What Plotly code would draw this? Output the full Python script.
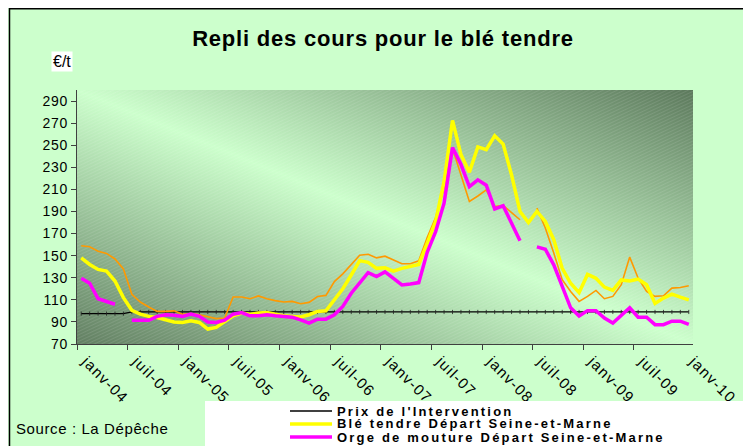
import base64
import plotly.graph_objects as go

# ---------------- data ----------------
tick_labels = ["janv-04", "juil-04", "janv-05", "juil-05", "janv-06", "juil-06", "janv-07",
               "juil-07", "janv-08", "juil-08", "janv-09", "juil-09", "janv-10"]
months = list(range(73))  # monthly points janv-04 .. janv-10

prix_intervention = [97.5] * 6 + [99] * 67

ble_tendre = [148, 142, 137.5, 136, 127, 112, 100.5, 97, 95, 94, 92, 90,
              89.5, 91, 89.5, 83.5, 85, 90, 95.5, 98, 97, 98, 98.5, 97,
              95.5, 95, 94.5, 96.5, 99.5, 100, 110.5, 120, 132.5, 145.5, 144, 138.5,
              139, 136, 138.5, 140, 142, 161, 181, 217, 272.5, 241.5, 225.5, 248.5,
              246, 258.5, 251, 223, 190, 180, 190, 181, 164.5, 138.5, 125, 116.5,
              133, 129.5, 121.5, 118.5, 128, 127, 128.8, 123.7, 106.8, 111.6, 115.2, 112.5,
              110]

orge = [129.5, 125, 111, 108.5, 106, None, 91.5, 91.5, 91.5, 95, 96.5, 96,
        95, 97, 95, 90, 89.5, 91.5, 97, 98.5, 95.5, 95.5, 96.4, 95.5,
        94.9, 94.3, 91.9, 88.9, 92.5, 92.5, 96.4, 104, 116, 125, 134.6, 131,
        135.3, 129.5, 123.5, 124.4, 125.6, 153, 171.8, 197.5, 248, 232.5, 212.5, 218.6,
        213.8, 192.3, 195.2, 179.4, 163.5, None, 158, 155.8, 141.7, 122.1, 102.8, 95.3,
        100.2, 100.2, 93.5, 89, 95.9, 102.8, 94.2, 94.2, 87.5, 87.5, 90.7, 90.7,
        87.8]

autre_ble = [159, 158, 154, 152, 147, 138, 115, 108, 103.5, 99.5, 99.5, 100,
             97, 97.5, 96.5, 94.5, 93, 93.5, 112.5, 112.5, 111, 113.5, 111, 109.3,
             108, 108.6, 106.5, 107.7, 113, 114, 126.5, 133.5, 141.7, 150.4, 151.3, 148,
             149.5, 146.2, 142.6, 142.6, 145.3, 166.5, 184.5, 211, 247.2, 223, 199, 204,
             209.5, 194.5, 195.5, 189, 182.5, None, 193, 175, 152.3, 128.2, 117.6, 108.6,
             113.1, 118.5, 111, 113.1, 123.7, 148.7, 129.6, 117.6, 113.1, 113.7, 120.6, 121.2,
             122.7]

y_ticks = list(range(70, 300, 20))

# ---------------- layout helpers ----------------
OFF = 8                      # page body margin
W, H = 751 - OFF, 446 - OFF  # figure size
L, T = 77 - OFF, 90 - OFF
R = W - (693 - OFF)
B = H - (344 - OFF)
PW, PH = W - L - R, H - T - B
FONT = "Liberation Sans, Arial, sans-serif"


def px(x):  # screenshot x -> paper
    return (x - OFF - L) / PW


def py(y):  # screenshot y -> paper
    return (H - B - (y - OFF)) / PH


svg = f'''<svg xmlns="http://www.w3.org/2000/svg" width="{PW}" height="{PH}" viewBox="0 0 {PW} {PH}" preserveAspectRatio="none">
<defs>
<linearGradient id="g" x1="0" y1="1" x2="1" y2="0">
<stop offset="0" stop-color="#627F62"/>
<stop offset="0.5" stop-color="#CCFFCC"/>
<stop offset="1" stop-color="#5C795C"/>
</linearGradient>
<pattern id="h" width="5" height="3" patternUnits="userSpaceOnUse" patternTransform="rotate(-25)">
<line x1="0" y1="0.5" x2="5" y2="0.5" stroke="#ffffff" stroke-opacity="0.10" stroke-width="1"/>
</pattern>
</defs>
<rect width="{PW}" height="{PH}" fill="url(#g)"/>
<rect width="{PW}" height="{PH}" fill="url(#h)"/>
</svg>'''
bg_src = "data:image/svg+xml;base64," + base64.b64encode(svg.encode()).decode()

fig = go.Figure()
fig.add_trace(go.Scatter(x=months, y=prix_intervention, mode="lines+markers", name="Prix de l'Intervention",
                         line=dict(color="black", width=1.3),
                         marker=dict(symbol="line-ns", size=3, line=dict(color="#222222", width=0.8)),
                         showlegend=False))
fig.add_trace(go.Scatter(x=months, y=autre_ble, mode="lines", name="Blé tendre (autre)",
                         line=dict(color="#FF9900", width=1.6), connectgaps=False, showlegend=False))
fig.add_trace(go.Scatter(x=months, y=ble_tendre, mode="lines", name="Blé tendre Départ Seine-et-Marne",
                         line=dict(color="#FFFF00", width=3.5), connectgaps=False, showlegend=False))
fig.add_trace(go.Scatter(x=months, y=orge, mode="lines", name="Orge de mouture Départ Seine-et-Marne",
                         line=dict(color="#FF00FF", width=3.5), connectgaps=False, showlegend=False))

axis_col = "#404040"
fig.update_layout(
    width=W, height=H,
    margin=dict(l=L, r=R, t=T, b=B, pad=0),
    paper_bgcolor="#CCFFCC",
    plot_bgcolor="#CCFFCC",
    font=dict(family=FONT, color="black", size=14),
    title=dict(text='<b><span style="letter-spacing:0.8px">Repli des cours pour le blé tendre</span></b>',
               font=dict(size=22, family=FONT),
               x=px(383), xref="paper", xanchor="center", y=1 - (38 - OFF) / H, yanchor="middle"),
    xaxis=dict(range=[-0.5, 72.5], tickmode="array", tickvals=list(range(0, 73, 6)),
               ticktext=[f'<span style="letter-spacing:1.3px">{t}</span>' for t in tick_labels],
               tickangle=45, ticks="", showgrid=False, zeroline=False,
               showline=True, linecolor=axis_col, linewidth=1,
               tickfont=dict(size=15, family=FONT),
               ticklabelstandoff=2, ticklabelshift=5,
               minor=dict(tickmode="array", tickvals=[i - 0.5 for i in range(0, 72, 6)],
                          ticks="outside", ticklen=5, tickcolor=axis_col, tickwidth=1)),
    yaxis=dict(range=[70, 300], tickmode="array", tickvals=y_ticks,
               ticktext=[f'<span style="letter-spacing:0.8px">{v}</span>' for v in y_ticks],
               ticks="outside", ticklen=5,
               tickcolor=axis_col, showgrid=False, zeroline=False, showline=True,
               linecolor=axis_col, linewidth=1, tickfont=dict(size=14, family=FONT)),
    images=[dict(source=bg_src, xref="paper", yref="paper", x=0, y=1, sizex=1, sizey=1,
                 sizing="stretch", xanchor="left", yanchor="top", layer="below")],
)

shapes = []
# chart frame
shapes.append(dict(type="rect", xref="paper", yref="paper", x0=px(9.5), x1=px(747.5), y0=py(H + 30), y1=py(8.7),
                   fillcolor="rgba(0,0,0,0)", line=dict(color="black", width=1.5), layer="above"))
# legend box
shapes.append(dict(type="rect", xref="paper", yref="paper", x0=px(205), x1=px(760), y0=py(460), y1=py(401),
                   fillcolor="white", line=dict(width=0), layer="above"))
legend_items = [("Prix de l'Intervention", "black", 1.5, 411),
                ("Blé tendre Départ Seine-et-Marne", "#FFFF00", 3.5, 424),
                ("Orge de mouture Départ Seine-et-Marne", "#FF00FF", 3.5, 437)]
annotations = []
for text, col, w, yy in legend_items:
    shapes.append(dict(type="line", xref="paper", yref="paper", x0=px(290), x1=px(332), y0=py(yy), y1=py(yy),
                       line=dict(color=col, width=w), layer="above"))
    annotations.append(dict(text=f'<b><span style="letter-spacing:2.2px">{text}</span></b>',
                            xref="paper", yref="paper", x=px(335), y=py(yy), xanchor="left", yanchor="middle",
                            showarrow=False, font=dict(size=13, family=FONT)))

annotations.append(dict(text='<span style="letter-spacing:0.6px">Source : La Dépêche</span>',
                        xref="paper", yref="paper", x=px(14), y=py(428), xanchor="left", yanchor="middle",
                        showarrow=False, font=dict(size=15, family=FONT)))
annotations.append(dict(text="€/t", xref="paper", yref="paper", x=px(62), y=py(62), xanchor="center",
                        yanchor="middle", showarrow=False, bgcolor="white", borderpad=1,
                        font=dict(size=16, family=FONT)))
fig.update_layout(shapes=shapes, annotations=annotations)

fig.write_html("out.html")
